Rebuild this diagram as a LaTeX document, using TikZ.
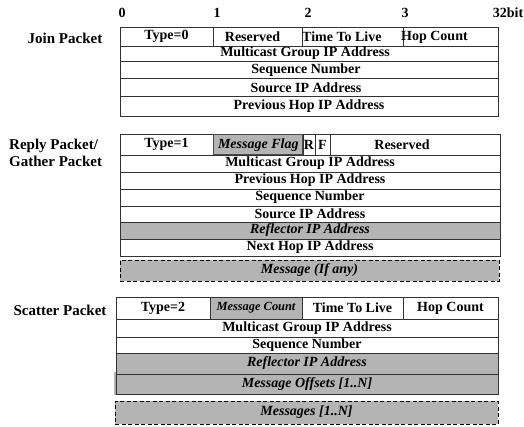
\documentclass[tikz,border=0pt]{standalone}
\usepackage{fontspec}
\setmainfont{Liberation Serif}
\definecolor{cellgray}{RGB}{180,180,180}
\definecolor{rulegray}{RGB}{50,50,50}
\tikzset{
  fld/.style={draw=rulegray,line width=0.9pt,inner sep=0pt,outer sep=0pt,
    font=\fontsize{14}{16}\selectfont\bfseries},
  shaded/.style={fill=cellgray},
  ital/.style={font=\fontsize{14}{16}\selectfont\bfseries\itshape},
  dashbox/.style={draw=black,line width=0.7pt,dash pattern=on 4pt off 2.5pt,fill=cellgray,
    font=\fontsize{14}{16}\selectfont\bfseries\itshape},
  lbl/.style={font=\fontsize{15}{17}\selectfont\bfseries,inner sep=0pt},
  hdr/.style={font=\fontsize{14}{16}\selectfont\bfseries,inner sep=0pt},
  txt/.style={font=\fontsize{14}{16}\selectfont\bfseries,inner sep=0pt},
}
% \fld[opts]{name}{x1}{y1}{x2}{y2}{text}
\newcommand{\fld}[7][]{%
  \node[fld,#1,minimum width={#5pt-#3pt},minimum height={#6pt-#4pt}]
    (#2) at ({(#3+#5)/2},{(#4+#6)/2}) {#7};}
\begin{document}
\begin{tikzpicture}[x=1pt,y=-1pt]
\useasboundingbox (0,0) rectangle (524,426);
% header
\node[hdr] (h0) at (122,13) {0};
\node[hdr] (h1) at (217,13) {1};
\node[hdr] (h2) at (308,13) {2};
\node[hdr] (h3) at (405,13) {3};
\node[hdr] (h32) at (508,13) {32bit};
% labels
\node[lbl] (ljoin) at (65,38) {Join Packet};
\node[lbl,align=left,anchor=west] (lreply) at (9,153) {Reply Packet/\\Gather Packet};
\node[lbl] (lscat) at (60,310) {Scatter Packet};
% Join packet
\fld{j1}{120}{27}{213}{46}{Type=0}
\fld{j2}{213}{27}{302}{46}{\hspace*{-10pt}Reserved}
\fld{j3}{302}{27}{403}{46}{}
\fld{j4}{403}{27}{498}{46}{}
\node[txt,anchor=west] (j3t) at (302,37) {Time To Live};
\node[txt,anchor=west] (j4t) at (401,37) {Hop Count};
\fld{j5}{120}{46}{498}{61}{}
\node[txt] (j5t) at (305,53) {Multicast Group IP Address};
\fld{j6}{120}{61}{498}{78}{}
\node[txt] (j6t) at (306,70) {Sequence Number};
\fld{j7}{120}{78}{498}{96}{}
\node[txt] (j7t) at (306,88) {Source IP Address};
\fld{j8}{120}{96}{498}{116}{Previous Hop IP Address}
% Reply packet
\fld{r1}{120}{134}{213}{155}{Type=1}
\fld[shaded,ital,draw=gray!60!black,line width=1.6pt]{r2}{213.5}{134.5}{303}{155}{Message Flag}
\fld{r3}{303}{134}{315}{155}{R}
\fld{r4}{315}{134}{330}{155}{F}
\fld{r5}{330}{134}{500}{155}{\hspace*{-26pt}Reserved}
\fld{r6}{120}{155}{500}{172}{Multicast Group IP Address}
\fld{r7}{120}{172}{500}{189}{Previous Hop IP Address}
\fld{r8}{120}{189}{500}{206}{Sequence Number}
\fld{r9}{120}{206}{500}{222}{Source IP Address}
\fld[shaded,ital]{r10}{120}{222}{500}{239}{Reflector IP Address}
\fld{r11}{120}{239}{500}{256}{Next Hop IP Address}
\node[dashbox,minimum width=379pt,minimum height=21pt,inner sep=0pt] (r12) at (309.5,270.5) {Message (If any)};
% Scatter packet
\fill[cellgray] (114,372) rectangle (117,395);
\fld{s1}{116}{297}{210}{319}{Type=2}
\fld[shaded,font=\fontsize{12.4}{14}\selectfont\bfseries\itshape]{s2}{210}{297}{302}{319}{Message Count}
\fld{s3}{302}{297}{403}{319}{Time To Live}
\fld{s4}{403}{297}{498}{319}{Hop Count}
\fld{s5}{116}{319}{498}{337}{Multicast Group IP Address}
\fld{s6}{116}{337}{498}{353}{Sequence Number}
\fld[shaded,ital]{s7}{116}{353}{498}{374}{Reflector IP Address}
\fld[shaded,ital]{s8}{116}{374}{498}{394}{Message Offsets [1..N]}
\node[dashbox,minimum width=383pt,minimum height=23pt,inner sep=0pt] (s9) at (306.5,412.5) {Messages [1..N]};
\end{tikzpicture}
\end{document}
